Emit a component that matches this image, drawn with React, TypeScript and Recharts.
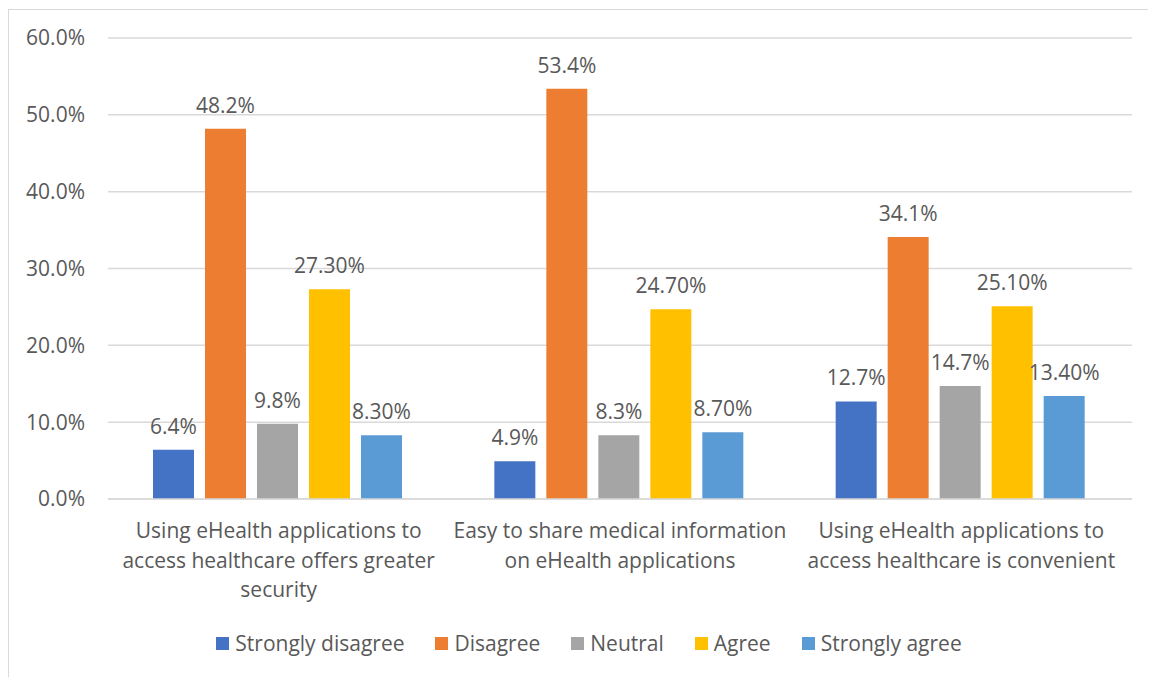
import React from "react";
import { BarChart, Bar, XAxis, YAxis, CartesianGrid, Legend, LabelList } from "recharts";

// Survey statements (x-axis categories) and their wrapped tick lines
const categories = [
  "Using eHealth applications to access healthcare offers greater security",
  "Easy to share medical information on eHealth applications",
  "Using eHealth applications to access healthcare is convenient",
];
const categoryLines = [
  ["Using eHealth applications to", "access healthcare offers greater", "security"],
  ["Easy to share medical information", "on eHealth applications"],
  ["Using eHealth applications to", "access healthcare is convenient"],
];

// Response shares (%) per category
const stronglyDisagree = [6.4, 4.9, 12.7];
const disagree = [48.2, 53.4, 34.1];
const neutral = [9.8, 8.3, 14.7];
const agree = [27.3, 24.7, 25.1];
const stronglyAgree = [8.3, 8.7, 13.4];

const yTicks = [0, 10, 20, 30, 40, 50, 60];

const FONT = "'Open Sans', sans-serif";
const TEXT = "#595959";
const FS = 21;

const series = [
  { key: "sd", name: "Strongly disagree", values: stronglyDisagree, color: "#4472C4", decimals: 1 },
  { key: "d", name: "Disagree", values: disagree, color: "#ED7D31", decimals: 1 },
  { key: "n", name: "Neutral", values: neutral, color: "#A5A5A5", decimals: 1 },
  { key: "a", name: "Agree", values: agree, color: "#FFC000", decimals: 2 },
  { key: "sa", name: "Strongly agree", values: stronglyAgree, color: "#5B9BD5", decimals: 2 },
];

const data = categories.map((c, i) => {
  const row: Record<string, any> = { category: c, idx: i };
  series.forEach((s) => {
    row[s.key] = s.values[i];
  });
  return row;
});

const CategoryTick = (props: any) => {
  const { x, y, payload } = props;
  const i = categories.indexOf(payload.value);
  const lines = categoryLines[i] || [payload.value];
  return (
    <g transform={`translate(${x},${y})`}>
      <text textAnchor="middle" fill={TEXT} fontSize={FS} fontFamily={FONT}>
        {lines.map((l, k) => (
          <tspan key={k} x={0} dy={k === 0 ? 31 : 29.5}>
            {l}
          </tspan>
        ))}
      </text>
    </g>
  );
};

const LegendContent = () => (
  <div
    style={{
      display: "flex",
      justifyContent: "center",
      alignItems: "center",
      height: 24,
      fontFamily: FONT,
      fontSize: FS,
      color: TEXT,
      paddingLeft: 37,
    }}
  >
    {series.map((s, i) => (
      <div
        key={s.key}
        style={{ display: "flex", alignItems: "center", marginRight: i === series.length - 1 ? 0 : 31 }}
      >
        <span style={{ width: 13, height: 13, background: s.color, display: "inline-block", marginRight: 6 }} />
        <span>{s.name}</span>
      </div>
    ))}
  </div>
);

export default function App() {
  return (
    <div
      style={{
        position: "relative",
        top: 1,
        width: 1147,
        height: 668,
        borderLeft: "1px solid #D9D9D9",
        borderTop: "1px solid #D9D9D9",
        background: "#fff",
      }}
    >
      <BarChart
        width={1147}
        height={667}
        data={data}
        margin={{ top: 28, right: 24, left: 0, bottom: 22 }}
        barGap={11}
        barCategoryGap={45}
      >
        <CartesianGrid vertical={false} stroke="#D9D9D9" strokeWidth={1.5} />
        <XAxis
          dataKey="category"
          axisLine={{ stroke: "#D9D9D9", strokeWidth: 1.5 }}
          tickLine={false}
          height={132}
          interval={0}
          tick={<CategoryTick />}
        />
        <YAxis
          width={99}
          domain={[0, 60]}
          ticks={yTicks}
          axisLine={false}
          tickLine={false}
          tickMargin={17}
          tick={{ fill: TEXT, fontSize: FS, fontFamily: FONT }}
          tickFormatter={(v: number) => `${v.toFixed(1)}%`}
        />
        <Legend verticalAlign="bottom" content={<LegendContent />} />
        {series.map((s) => (
          <Bar key={s.key} dataKey={s.key} name={s.name} fill={s.color} isAnimationActive={false}>
            <LabelList
              dataKey={s.key}
              position="top"
              offset={16}
              fill={TEXT}
              fontSize={FS}
              fontFamily={FONT}
              formatter={(v: any) => `${Number(v).toFixed(s.decimals)}%`}
            />
          </Bar>
        ))}
      </BarChart>
    </div>
  );
}
